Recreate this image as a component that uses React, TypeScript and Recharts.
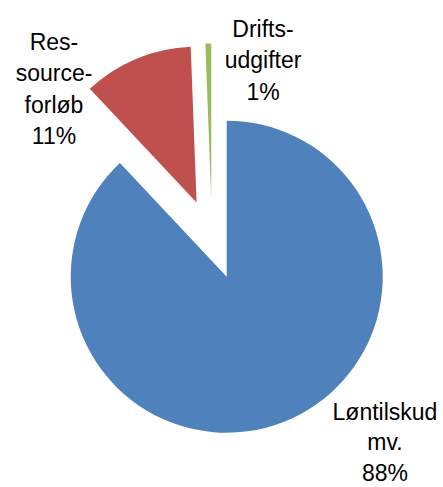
import { Pie, PieChart, Sector } from 'recharts'

const categories = ['Løntilskud mv.', 'Ressourceforløb', 'Driftsudgifter']
const shares = [88.0, 11.4, 0.6]
// how the labels are hyphenated/wrapped in the chart
const labelLines = [
  ['Løntilskud', 'mv.'],
  ['Res-', 'source-', 'forløb'],
  ['Drifts-', 'udgifter'],
]

const COLORS = ['#4F81BD', '#C0504D', '#9BBB59']
const EXPLODE = 40
const RADIAN = Math.PI / 180
// label block anchor (centre x, first baseline y) relative to the pie centre
const LABEL_OFFSETS = [
  { dx: 173, dy: 180 },
  { dx: -158, dy: -190 },
  { dx: 51, dy: -203 },
]
const LINE_HEIGHT = 31.5

const data = categories.map((name, i) => ({ name, value: shares[i] }))

function ExplodedSector(props: any) {
  const { cx, cy, midAngle, index } = props
  const dx = EXPLODE * Math.cos(-midAngle * RADIAN)
  const dy = EXPLODE * Math.sin(-midAngle * RADIAN)
  return (
    <Sector
      {...props}
      cx={cx + dx}
      cy={cy + dy}
      fill={COLORS[index]}
      stroke="none"
    />
  )
}

function SliceLabel(props: any) {
  const { cx, cy, index, percent } = props
  const off = LABEL_OFFSETS[index]
  const lines = [...labelLines[index], `${Math.round(percent * 100)}%`]
  // the bottom label sits against the lower edge, so its lines are a bit tighter
  const lh = index === 0 ? 30.5 : LINE_HEIGHT
  return (
    <text
      x={cx + off.dx}
      y={cy + off.dy}
      textAnchor="middle"
      fill="#000000"
      fontSize={23}
      fontFamily="'Liberation Sans', Arial, sans-serif"
    >
      {lines.map((line, i) => (
        <tspan key={i} x={cx + off.dx} dy={i === 0 ? 0 : lh}>
          {line}
        </tspan>
      ))}
    </text>
  )
}

export default function App() {
  return (
    <div style={{ position: 'absolute', left: 0, top: 0, background: '#fff' }}>
      <PieChart
        width={443}
        height={487}
        margin={{ top: 0, right: 0, bottom: 0, left: 0 }}
      >
        <Pie
          data={data}
          dataKey="value"
          nameKey="name"
          cx={212}
          cy={239.5}
          outerRadius={156}
          startAngle={90}
          endAngle={-270}
          stroke="none"
          shape={ExplodedSector}
          label={SliceLabel}
          labelLine={false}
          isAnimationActive={false}
        />
      </PieChart>
    </div>
  )
}
